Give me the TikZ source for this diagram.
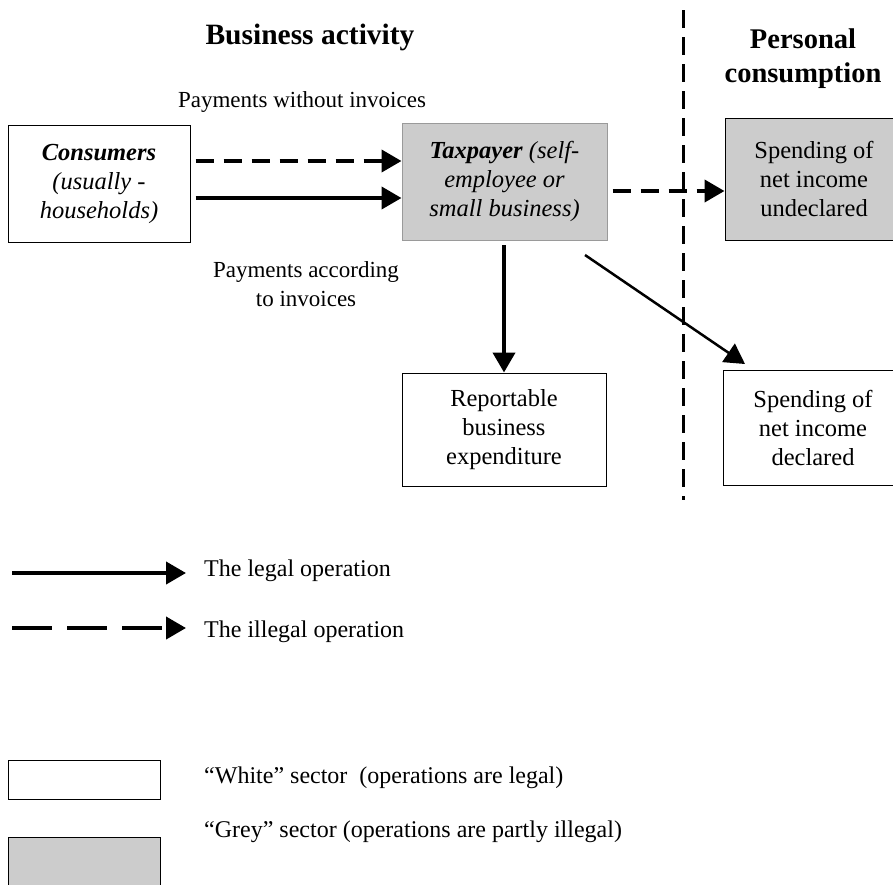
\documentclass[tikz,border=0pt]{standalone}
\usepackage{fontspec}
\setmainfont{Liberation Serif}
\usetikzlibrary{arrows.meta}
\definecolor{greyfill}{HTML}{CCCCCC}
\definecolor{greyedge}{HTML}{9A9A9A}
\tikzset{
  box/.style={draw=black, line width=1pt, fill=white, align=center, inner sep=0pt, font=\fontsize{24.5}{29}\selectfont},
  greybox/.style={box, fill=greyfill},
  bigtip/.style={-{Triangle[length=20pt,width=22pt]}},
  legal/.style={bigtip, line width=4pt},
  illegal/.style={bigtip, line width=4pt, dash pattern=on 18pt off 10pt},
  lbl/.style={font=\fontsize{23}{29}\selectfont, align=center, inner sep=0pt},
  title/.style={font=\fontsize{29.5}{34}\selectfont\bfseries, align=center, inner sep=0pt},
  legtext/.style={font=\fontsize{24}{28}\selectfont, anchor=west, inner sep=0pt}
}
\begin{document}
\begin{tikzpicture}[x=1pt,y=-1pt]
\clip (0,0) rectangle (893,884);
\useasboundingbox (0,0) rectangle (893,884);
% titles
\node[title] (t1) at (310,37) {Business activity};
\node[title, font=\fontsize{28.5}{34}\selectfont\bfseries] (t2) at (803,59) {Personal\\consumption};
% divider
\coordinate (d1) at (683,10);
\coordinate (d2) at (683,500);
\draw[line width=3pt, dash pattern=on 18pt off 9pt] (d1) -- (d2);
% boxes
\node[box, minimum width=182pt, minimum height=117pt] (cons) at (99,183.5)
  {\textbf{\textit{Consumers}}\\\textit{(usually -}\\\textit{households)}};
\node[greybox, draw=greyedge, minimum width=205pt, minimum height=117pt] (tax) at (504.5,181.5)
  {\textbf{\textit{Taxpayer}} \textit{(self-}\\\textit{employee or}\\\textit{small business)}};
\node[greybox, minimum width=178pt, minimum height=122pt] (und) at (814,179)
  {Spending of\\net income\\undeclared};
\node[box, minimum width=204pt, minimum height=113pt] (rep) at (504,429.5)
  {Reportable\\business\\expenditure};
\node[box, minimum width=180pt, minimum height=115pt] (dec) at (813,427.5)
  {Spending of\\net income\\declared};
% labels
\node[lbl] (pw) at (302,102) {Payments without invoices};
\node[lbl] (pa) at (306,284) {Payments according\\to invoices};
% arrows
\draw[illegal] (cons.east|-0,161) ++(5,0) -- (tax.west|-0,161);
\draw[legal] (cons.east|-0,198) ++(5,0) -- (tax.west|-0,198);
\draw[illegal] (tax.east|-0,191) ++(5,0) -- (und.west|-0,191);
\draw[legal] (rep.north|-0,245) -- (rep.north);
\coordinate (ds) at (585,255);
\draw[bigtip, line width=2.5pt] (ds) -- (745,364);
% legend
\coordinate (l1a) at (12,573);
\coordinate (l1b) at (186,573);
\coordinate (l2a) at (12,628);
\coordinate (l2b) at (186,628);
\draw[legal] (l1a) -- (l1b);
\draw[illegal, dash pattern=on 40pt off 15pt] (l2a) -- (l2b);
\node[legtext] (lt1) at (204,571) {The legal operation};
\node[legtext] (lt2) at (204,632) {The illegal operation};
\node[draw=black, line width=1pt, minimum width=152pt, minimum height=39pt, inner sep=0pt] (wb) at (84,779.5) {};
\node[draw=black, line width=1pt, fill=greyfill, minimum width=152pt, minimum height=60pt, inner sep=0pt] (gb) at (84,867) {};
\node[legtext] (wt) at (204,778) {“White” sector\ \ (operations are legal)};
\node[legtext] (gt) at (204,832) {“Grey” sector (operations are partly illegal)};
\end{tikzpicture}
\end{document}
